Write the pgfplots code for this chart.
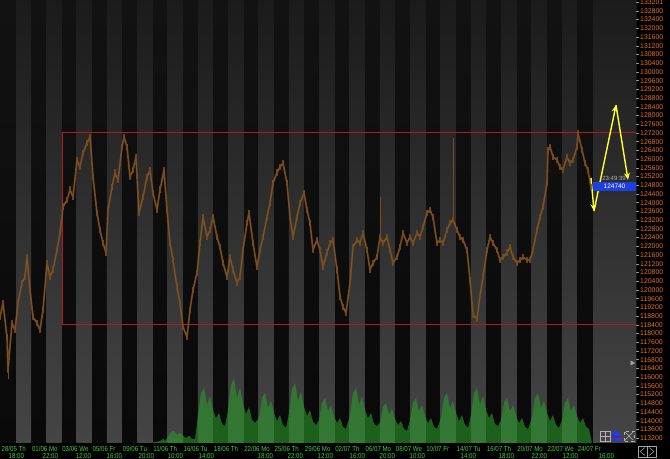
\documentclass[border=0pt]{standalone}
\usepackage{pgfplots}
\pgfplotsset{compat=1.18}
\usepackage{fontspec}
\setmainfont{Liberation Sans}
\newfontfamily\narrowfont[FakeStretch=0.85]{Liberation Sans}
\usetikzlibrary{arrows.meta}
\pgfdeclarelayer{background}
\pgfsetlayers{background,main}
\definecolor{bgtop}{HTML}{121212}
\definecolor{bgbot}{HTML}{090909}
\definecolor{sttop}{HTML}{1B1B1B}
\definecolor{stbot}{HTML}{454545}
\definecolor{pricecol}{RGB}{120,76,30}
\definecolor{pricehi}{RGB}{160,104,46}
\definecolor{boxred}{HTML}{B81818}
\definecolor{lblorange}{HTML}{E8701A}
\definecolor{lblgreen}{HTML}{3FD03F}
\definecolor{volgreen}{HTML}{2A9A2A}
\definecolor{arrowyellow}{HTML}{FFFF33}
\definecolor{pxblue}{HTML}{1C3FE0}
\pgfplotstableread{
x p
0 118760
3 119400
7 117840
8 116330
12 118480
15 118160
18 119400
22 120320
25 120600
27 121510
30 120000
33 118760
37 118480
40 118160
43 119080
47 121240
50 120600
53 120920
57 121830
60 122610
63 123810
67 124130
70 124590
73 124260
77 125960
80 125640
83 126280
87 126740
90 127020
93 125180
97 123530
100 122750
103 122150
106 121700
108 123670
112 124720
115 125370
118 125040
122 126560
124 127020
127 126560
130 125180
133 125500
136 126100
139 123530
143 124260
147 125180
150 125500
153 124450
157 123670
160 124590
164 125500
167 123670
170 122150
173 121370
177 120140
180 119400
183 118300
187 117840
190 119080
193 120000
197 120780
200 122150
203 123350
207 122430
210 122750
213 123350
217 122430
220 121970
223 121240
227 120600
230 121510
233 120920
237 120320
240 120600
243 121830
247 123070
249 123530
253 122150
257 121050
260 121830
263 122430
267 123350
270 123990
273 124910
277 125370
280 125640
283 125820
287 124910
290 123350
293 122430
297 123350
300 123990
304 124450
307 123670
310 123070
313 121830
317 122290
320 121830
323 121050
327 121700
330 122150
333 122290
337 120920
340 119680
343 119220
346 118940
350 120320
353 121970
357 122290
360 122150
363 122610
367 121830
370 120920
373 121240
377 121510
380 122430
383 122150
387 122430
390 121830
393 121240
397 121510
400 121970
403 122610
407 122150
410 122430
413 122150
417 122610
420 122430
423 122890
427 123530
430 123670
433 123350
437 122150
440 122290
443 122150
447 122750
450 123070
453 123210
457 122750
460 122430
463 122290
467 121830
470 120460
473 118850
477 118670
480 119720
483 120600
487 121830
490 122430
493 122150
497 121830
500 121370
503 121510
507 121700
510 121970
513 121510
517 121240
520 121370
523 121510
527 121370
530 121370
533 121830
537 122750
540 123350
543 123810
547 124910
548 126420
550 126560
553 126100
557 125960
560 125640
563 125500
567 126100
570 125820
573 125960
577 126560
578 127200
582 126420
585 125820
588 125500
591 124720
}\pricetable
\pgfplotstableread{
x v
150 0
155 1
160 2
163 4
165 2
168 6
171 11
174 12
177 8
180 10
183 7
186 5
189 7
192 4
195 4
198 28
201 50
204 55
207 38
210 47
213 33
216 25
219 30
222 19
225 17
228 33
231 58
234 65
237 45
240 55
243 39
246 29
249 36
252 23
255 20
259 25
262 45
265 50
268 35
271 42
274 30
277 22
280 28
283 18
286 15
289 30
292 54
295 60
298 42
301 51
304 36
307 27
310 33
313 21
316 18
319 23
322 40
325 45
328 32
331 38
334 27
337 20
340 25
343 16
346 14
350 28
353 50
356 55
359 38
362 47
365 33
368 25
371 30
374 19
377 17
380 20
383 36
386 40
389 28
392 34
395 24
398 18
401 22
404 14
407 12
410 23
413 40
416 45
419 32
422 38
425 27
428 20
431 25
434 16
437 14
441 25
444 45
447 50
450 35
453 42
456 30
459 22
462 28
465 18
468 15
471 28
474 50
477 55
480 38
483 47
486 33
489 25
492 30
495 19
498 17
501 23
504 40
507 45
510 32
513 38
516 27
519 20
522 25
525 16
528 14
532 25
535 45
538 50
541 35
544 42
547 30
550 22
553 28
556 18
559 15
562 23
565 40
568 45
571 32
574 38
577 27
580 20
583 25
586 16
589 14
592 0
}\voltable
\begin{document}
\begin{tikzpicture}[x=1pt,y=1pt]
\begin{axis}[
  scale only axis,
  width=636pt, height=443pt,
  xmin=0, xmax=636, ymin=112980, ymax=133300,
  axis line style={draw=none},
  ytick pos=right, yticklabel pos=right, xtick pos=bottom,
  scaled y ticks=false,
  ytick={113200,113600,...,133200},
  yticklabel style={text=lblorange, anchor=west, inner sep=1pt, font=\fontsize{6.9}{7}\selectfont,
    /pgf/number format/.cd, fixed, precision=0, 1000 sep={}, assume math mode=true},
  y tick style={draw=gray!80, line width=0.5pt},
  tick align=outside, major tick length=3pt,
  xtick={0.97,31.3,61.63,91.96,122.29,152.62,182.95,213.28,243.61,273.94,304.27,334.6,364.93,395.26,425.59,455.92,486.25,516.58,546.91,577.24},
  xticklabels={28/05 Th,01/06 Mo,03/06 We,05/06 Fr,09/06 Tu,11/06 Th,16/06 Tu,18/06 Th,22/06 Mo,25/06 Th,29/06 Mo,02/07 Th,06/07 Mo,08/07 We,10/07 Fr,14/07 Tu,16/07 Th,20/07 Mo,22/07 We,24/07 Fr},
  xticklabel style={text=lblgreen, anchor=north west, inner sep=0.5pt, font=\narrowfont\fontsize{7.2}{7.2}\selectfont},
  x tick style={draw=none},
  extra x ticks={8,42,75,106,138,167,198,257,287,317,349,379,409,460,498,531,562,598},
  extra x tick labels={18:00,22:00,12:00,16:00,20:00,10:00,14:00,18:00,22:00,12:00,16:00,20:00,10:00,14:00,18:00,22:00,12:00,16:00},
  extra x tick style={tick style={draw=none}, ticklabel style={text=lblorange, anchor=north, yshift=-6.5pt, font=\narrowfont\fontsize{6.6}{6.6}\selectfont}},
  clip=true,
]
\shade[top color=bgtop, bottom color=bgbot] (0,112980) rectangle (636,133300);
\pgfplotsinvokeforeach{0,...,18}{
  \shade[top color=sttop, bottom color=stbot] ({16+30.33*#1},112980) rectangle ({31+30.33*#1},133300);
}
\shade[top color=sttop, bottom color=stbot] (593,112980) rectangle (636,133300);

% red range box
\addplot[boxred, line width=1pt] coordinates {(62,118400) (62,127200) (636,127200)};
\addplot[boxred, line width=1pt] coordinates {(62,118400) (636,118400)};

% price
\addplot[pricecol, line width=1.8pt, opacity=0.85, line join=round, mark=|, mark size=3.4pt, mark options={line width=1.3pt}] table[x=x,y=p] {\pricetable};
\addplot[pricehi, line width=0.5pt, opacity=0.6, line join=round] table[x=x,y=p] {\pricetable};
\addplot[pricecol, line width=1pt] coordinates {(380,122430)(380,124260)};
\addplot[pricecol, line width=1pt] coordinates {(453,123210)(453,126970)};
\addplot[pricecol, line width=1pt] coordinates {(8,116330)(8,115900)};

% forecast arrows
\addplot[arrowyellow, line width=1.4pt, -{Stealth[length=7pt,width=6pt]}] coordinates {(591,125140)(594,123620)};
\addplot[arrowyellow, line width=1.4pt, -{Stealth[length=7pt,width=6pt]}] coordinates {(594,123620)(616,128480)};
\addplot[arrowyellow, line width=1.4pt, -{Stealth[length=7pt,width=6pt]}] coordinates {(616,128480)(628,125050)};

% current price and time
\node[text=gray!60!white, font=\fontsize{6}{6}\selectfont, inner sep=0pt] at (axis cs:614,125120) {23:49:39};
\node[fill=pxblue, text=white, font=\fontsize{6.5}{6.5}\selectfont, inner sep=0.6pt, minimum width=44pt, minimum height=8.5pt] at (axis cs:614.5,124740) {124740};

\addplot[only marks, mark=triangle*, mark size=2.5pt, mark options={rotate=-90, fill=gray!70, draw=gray!70}] coordinates {(632,116650)};

% axis lines (bottom and right)
\draw[gray!80, line width=0.6pt] (rel axis cs:0,0) -- (rel axis cs:1,0) -- (rel axis cs:1,1);
\coordinate (BL) at (rel axis cs:0,0);
\coordinate (TR) at (rel axis cs:1,1);
\end{axis}

\begin{axis}[
  at={(BL)}, anchor=south west, scale only axis,
  width=636pt, height=443pt,
  xmin=0, xmax=636, ymin=0, ymax=443,
  axis lines=none, ticks=none,
]
\addplot[fill=volgreen, fill opacity=0.6, draw=none] table[x=x,y=v] {\voltable} \closedcycle;
\end{axis}

% toolbar icons
\begin{scope}[shift={(BL)}]
  \draw[gray!60, line width=0.5pt] (600,2) rectangle (610,12);
  \draw[gray!60, line width=0.5pt] (605,2) -- (605,12) (600,7) -- (610,7);
  \fill[pxblue] (612,2) -- (612,12) -- (616,12) -- (622,7) -- (622,2) -- cycle;
  \draw[red!80!black, line width=0.6pt] (612,7) -- (622,7);
  \draw[gray!60, line width=0.5pt, dashed] (624,2) rectangle (634,12);
  \draw[gray!60, line width=0.5pt] (625,3) -- (633,11) (625,11) -- (633,3);
  \draw[gray!70, line width=0.5pt] (638,-3) rectangle (647,-14) (647,-3) rectangle (656,-14);
  \draw[gray!70, line width=0.5pt] (645,-4.5) -- (640,-8.5) -- (645,-12.5) (649,-4.5) -- (654,-8.5) -- (649,-12.5);
\end{scope}

\path (BL) ++(0,-16) coordinate (B0);
\path (TR) ++(34,0) coordinate (T0);
\begin{pgfonlayer}{background}
\fill[black] (B0) rectangle (T0);
\end{pgfonlayer}
\pgfresetboundingbox
\useasboundingbox (B0) rectangle (T0);
\end{tikzpicture}
\end{document}
